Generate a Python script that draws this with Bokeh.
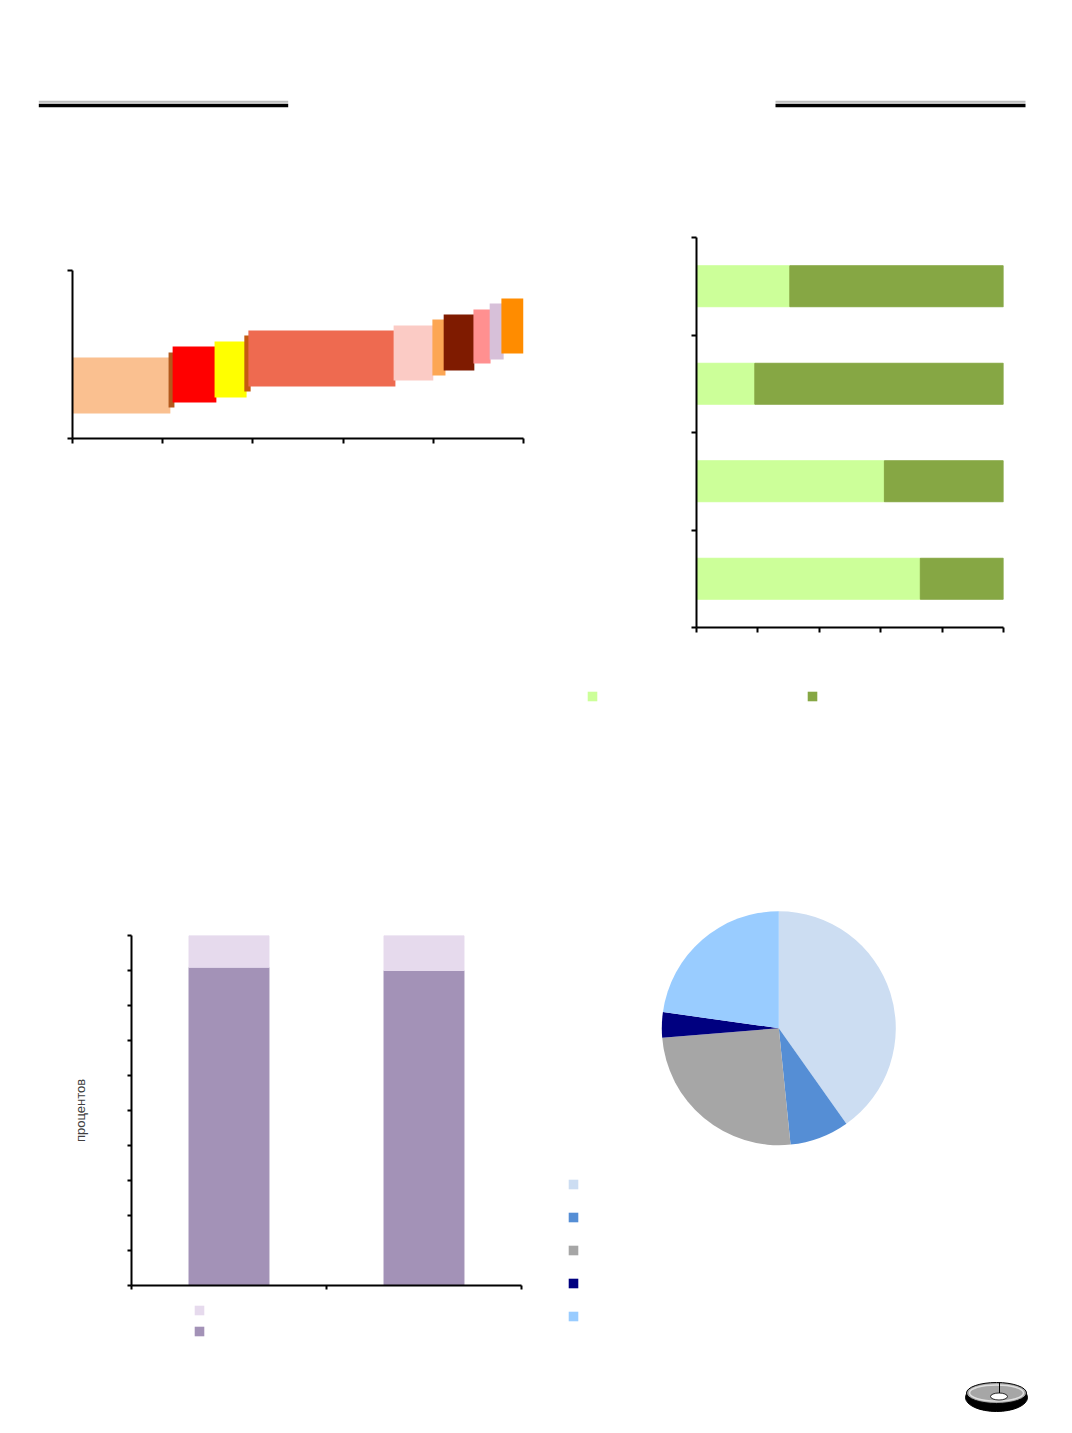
import numpy as np
from bokeh.plotting import figure
from bokeh.models import Range1d, FixedTicker, ColumnDataSource, Legend, LegendItem, CustomJSTickFormatter, Spacer
from bokeh.layouts import column, row
from bokeh.embed import file_html
from bokeh.resources import INLINE

# ---------------- data ----------------
# Chart 1: floating blocks of variable width
c1_left = [0.0, 21.3, 22.2, 31.5, 38.1, 39.0, 71.2, 79.8, 82.3, 88.9, 92.5, 95.1]
c1_right = [21.7, 22.6, 31.9, 38.6, 39.5, 71.6, 80.0, 82.7, 89.1, 92.7, 95.6, 100.0]
c1_bottom = [1.49, 1.85, 2.14, 2.44, 2.80, 3.10, 3.45, 3.75, 4.05, 4.46, 4.70, 5.06]
c1_top = [4.82, 5.12, 5.48, 5.77, 6.13, 6.43, 6.73, 7.08, 7.38, 7.68, 8.04, 8.33]
c1_colors = ["#FAC090", "#B3591C", "#FF0000", "#FFFF00", "#C55A11", "#EE6A50",
             "#FBCBC5", "#FCA654", "#7F1B00", "#FF9090", "#D7C0D9", "#FF8C00"]
c1_xticks = [0, 20, 40, 60, 80, 100]
c1_yticks = [0, 10]

# Chart 2: 100% horizontal stacked bars (bottom to top)
c2_pos = [0.5, 1.5, 2.5, 3.5]
c2_light = [72.9, 61.2, 19.0, 30.4]
c2_dark = [27.1, 38.8, 81.0, 69.6]
c2_colors = ["#CCFF99", "#86A744"]
c2_xticks = [0, 20, 40, 60, 80, 100]
c2_yticks = [0, 1, 2, 3, 4]

# Chart 3: 100% vertical stacked bars
c3_pos = [0.5, 1.5]
c3_dark = [90.9, 90.0]
c3_light = [9.1, 10.0]
c3_colors = ["#A392B7", "#E6DAED"]
c3_yticks = [0, 10, 20, 30, 40, 50, 60, 70, 80, 90, 100]
c3_xticks = [0, 1, 2]
c3_ylabel = "процентов"

# Chart 4: pie shares (percent), clockwise from 12 o'clock
pie_shares = [40.2, 8.2, 25.3, 3.5, 22.8]
pie_colors = ["#CCDDF2", "#558ED5", "#A6A6A6", "#000080", "#99CCFF"]


def style_axes(p, tick_out):
    for ax in p.axis:
        ax.axis_line_width = 2
        ax.axis_line_color = "black"
        ax.major_tick_line_width = 2
        ax.major_tick_line_color = "black"
        ax.major_tick_out = tick_out
        ax.major_tick_in = 0
        ax.minor_tick_line_color = None
        ax.major_label_text_color = None
        ax.major_label_text_font_size = "2px"
        ax.major_label_standoff = 0
        ax.formatter = CustomJSTickFormatter(code="return ''")
    p.xgrid.visible = False
    p.ygrid.visible = False
    p.outline_line_color = None


def make_legend(p, items, vx, vy, orientation, spacing, label_width=0):
    lg = Legend(items=items, location=(vx, vy), orientation=orientation,
                glyph_width=12, glyph_height=12, label_height=12,
                label_width=label_width, label_standoff=0, spacing=spacing,
                padding=0, margin=0, border_line_color=None,
                background_fill_color=None, label_text_font_size="8px")
    p.add_layout(lg, "center")


def blank_fig(w, h, xr, yr):
    f = figure(width=w, height=h, x_range=xr, y_range=yr,
               x_axis_type=None, y_axis_type=None, toolbar_location=None,
               output_backend="svg", min_border=0)
    f.outline_line_color = None
    f.grid.visible = False
    return f


def legend_fig(w, h, colors, vx, vy, orientation, spacing, label_width=0):
    # swatch renderers sit outside the visible range; only the legend shows
    f = blank_fig(w, h, Range1d(0, 1), Range1d(0, 1))
    src = ColumnDataSource(dict(l=[5.0] * len(colors), r=[6.0] * len(colors),
                                b=[5.0] * len(colors), t=[6.0] * len(colors), c=colors))
    r = f.quad(left="l", right="r", bottom="b", top="t", fill_color="c", line_color=None, source=src)
    items = [LegendItem(label=" ", renderers=[r], index=i) for i in range(len(colors))]
    make_legend(f, items, vx, vy, orientation, spacing, label_width)
    return f


# ---------------- header ----------------
hdr = blank_fig(1056, 150, Range1d(0, 1056), Range1d(150, 0))
hdr.segment(x0=[30.3, 767], y0=[93.3, 93.3], x1=[279.7, 1017], y1=[93.3, 93.3],
            line_color="#BDBDBD", line_width=2, line_cap="butt")
hdr.segment(x0=[30.3, 767], y0=[97, 97], x1=[279.7, 1017], y1=[97, 97],
            line_color="black", line_width=3.4, line_cap="butt")

# ---------------- chart 1 ----------------
p1 = figure(width=552, height=562, x_range=Range1d(0, 100), y_range=Range1d(0, 10),
            toolbar_location=None, output_backend="svg",
            min_border_left=64, min_border_right=37, min_border_top=112, min_border_bottom=282)
src1 = ColumnDataSource(dict(left=c1_left, right=c1_right, bottom=c1_bottom, top=c1_top, color=c1_colors))
p1.quad(left="left", right="right", bottom="bottom", top="top", fill_color="color",
        line_color=None, source=src1)
p1.xaxis.ticker = FixedTicker(ticks=c1_xticks)
p1.yaxis.ticker = FixedTicker(ticks=c1_yticks)
style_axes(p1, 5)

# ---------------- chart 2 ----------------
p2 = figure(width=504, height=520, x_range=Range1d(0, 100), y_range=Range1d(0, 4),
            toolbar_location=None, output_backend="svg",
            min_border_left=136, min_border_right=61, min_border_top=79, min_border_bottom=51)
src2 = ColumnDataSource(dict(y=c2_pos, light=c2_light, dark=c2_dark))
p2.hbar_stack(["light", "dark"], y="y", height=0.42, color=c2_colors, source=src2)
p2.xaxis.ticker = FixedTicker(ticks=c2_xticks)
p2.yaxis.ticker = FixedTicker(ticks=c2_yticks)
style_axes(p2, 5)
leg2 = legend_fig(504, 42, c2_colors, 26, 18, "horizontal", 0, label_width=208)

# ---------------- chart 3 ----------------
p3 = figure(width=552, height=580, x_range=Range1d(0, 2), y_range=Range1d(0, 100),
            toolbar_location=None, output_backend="svg",
            min_border_left=123, min_border_right=39, min_border_top=215, min_border_bottom=15)
src3 = ColumnDataSource(dict(x=c3_pos, dark=c3_dark, light=c3_light))
p3.vbar_stack(["dark", "light"], x="x", width=0.41, color=c3_colors, source=src3)
p3.xaxis.ticker = FixedTicker(ticks=c3_xticks)
p3.yaxis.ticker = FixedTicker(ticks=c3_yticks)
style_axes(p3, 4)
p3.yaxis.axis_label = c3_ylabel
p3.yaxis.axis_label_text_font = "Liberation Sans"
p3.yaxis.axis_label_text_font_size = "13px"
p3.yaxis.axis_label_text_font_style = "normal"
p3.yaxis.axis_label_text_color = "#404040"
p3.yaxis.axis_label_standoff = 40
leg3 = legend_fig(552, 70, [c3_colors[1], c3_colors[0]], 185, 33, "vertical", 9)

# ---------------- chart 4 (pie) ----------------
cx, cy = 218.3, 307.7
p4 = blank_fig(504, 650, Range1d(-cx, 504 - cx), Range1d(-(650 - cy), cy))
cum = np.cumsum([0.0] + pie_shares) / 100.0
src4 = ColumnDataSource(dict(start=np.pi / 2 - 2 * np.pi * cum[:-1],
                             end=np.pi / 2 - 2 * np.pi * cum[1:],
                             color=pie_colors))
r4 = p4.wedge(x=0, y=0, radius=117, start_angle="start", end_angle="end", direction="clock",
              fill_color="color", line_color=None, source=src4)
make_legend(p4, [LegendItem(label=" ", renderers=[r4], index=i) for i in range(len(pie_shares))],
            7, 48, "vertical", 21)

# ---------------- logo ----------------
logo = blank_fig(1056, 55, Range1d(0, 1056), Range1d(55, 0))
logo.ellipse(x=988, y=27, width=62, height=28, fill_color="black", line_color="black")
logo.ellipse(x=988, y=22.5, width=60, height=21, fill_color="#A6A6A6", line_color="black", line_width=1)
logo.ellipse(x=988, y=22.5, width=54, height=16, fill_color=None, line_color="#E0E0E0", line_width=1.5)
logo.ellipse(x=990.5, y=26, width=17, height=7, fill_color="white", line_color="black", line_width=0.8)
logo.segment(x0=[991], y0=[12], x1=[991], y1=[22.5], line_color="black", line_width=1)

page = column(hdr,
              row(column(p1), column(column(p2), column(leg2))),
              row(column(column(p3), column(leg3)), column(p4)),
              logo)
layout = column(Spacer(height=8), row(Spacer(width=8), page))

open("out.html", "w").write(file_html(layout, INLINE))
